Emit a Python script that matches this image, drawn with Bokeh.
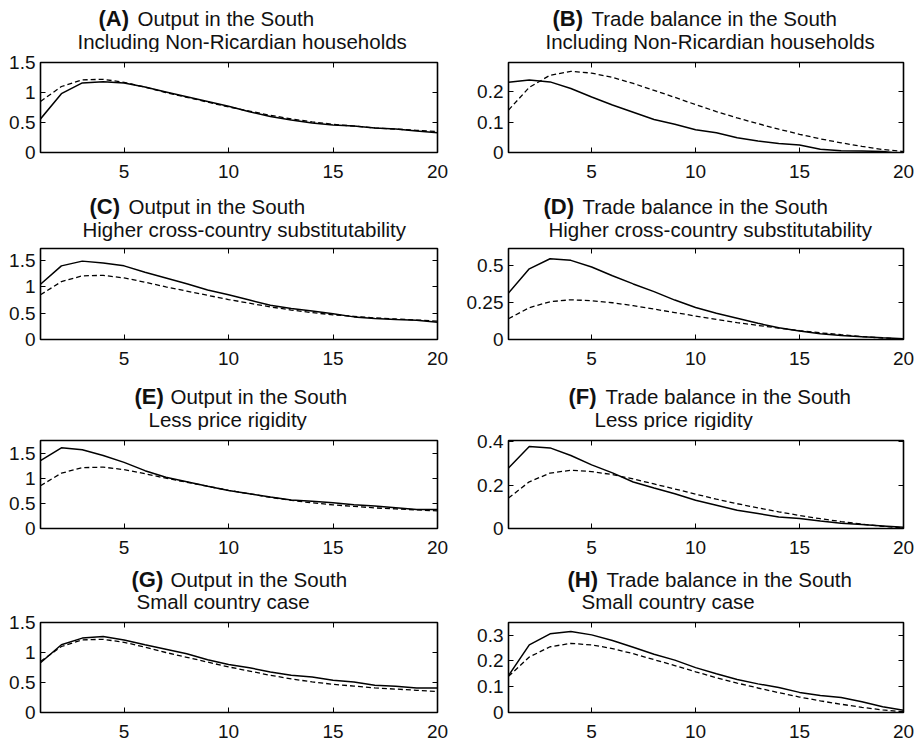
from bokeh.plotting import figure
from bokeh.models import Range1d, LinearAxis, FixedTicker
from bokeh.core.properties import value
from bokeh.layouts import column, row
from bokeh.embed import file_html
from bokeh.resources import INLINE

# ---------------- data ----------------
periods = list(range(1, 21))

# benchmark (dashed) responses
base_output = [0.85, 1.10, 1.21, 1.22, 1.17, 1.09, 1.00, 0.92, 0.84, 0.76,
               0.69, 0.62, 0.56, 0.51, 0.47, 0.44, 0.41, 0.39, 0.37, 0.35]
base_trade = [0.14, 0.215, 0.255, 0.268, 0.262, 0.248, 0.228, 0.205, 0.182, 0.158,
              0.135, 0.114, 0.095, 0.077, 0.060, 0.045, 0.032, 0.020, 0.010, 0.003]

# alternative scenarios (solid)
output_nonricardian = [0.56, 0.98, 1.16, 1.18, 1.16, 1.09, 1.01, 0.93, 0.85, 0.77,
                       0.68, 0.60, 0.54, 0.49, 0.46, 0.44, 0.41, 0.39, 0.36, 0.33]
trade_nonricardian = [0.232, 0.239, 0.233, 0.211, 0.183, 0.157, 0.133, 0.109, 0.093, 0.075,
                      0.065, 0.049, 0.038, 0.030, 0.025, 0.011, 0.006, 0.005, 0.003, -0.004]
output_substit = [1.05, 1.40, 1.49, 1.455, 1.40, 1.28, 1.17, 1.06, 0.94, 0.85,
                  0.75, 0.65, 0.59, 0.54, 0.49, 0.43, 0.40, 0.38, 0.365, 0.33]
trade_substit = [0.314, 0.477, 0.545, 0.534, 0.489, 0.43, 0.375, 0.323, 0.266, 0.216,
                 0.177, 0.143, 0.109, 0.08, 0.057, 0.039, 0.027, 0.018, 0.011, 0.005]
output_flexprice = [1.35, 1.605, 1.565, 1.45, 1.315, 1.15, 1.02, 0.93, 0.84, 0.757,
                    0.69, 0.625, 0.566, 0.54, 0.513, 0.474, 0.447, 0.414, 0.38, 0.38]
trade_flexprice = [0.278, 0.377, 0.371, 0.336, 0.293, 0.256, 0.214, 0.186, 0.160, 0.130,
                   0.107, 0.084, 0.069, 0.053, 0.046, 0.034, 0.024, 0.018, 0.012, 0.006]
output_small = [0.83, 1.13, 1.24, 1.265, 1.21, 1.13, 1.055, 0.98, 0.88, 0.80,
                0.746, 0.674, 0.619, 0.59, 0.536, 0.508, 0.453, 0.436, 0.409, 0.409]
trade_small = [0.143, 0.262, 0.305, 0.314, 0.301, 0.279, 0.253, 0.226, 0.203, 0.174,
               0.15, 0.128, 0.111, 0.097, 0.078, 0.066, 0.058, 0.042, 0.022, 0.009]

letters = ["(A)", "(B)", "(C)", "(D)", "(E)", "(F)", "(G)", "(H)"]
titles = ["Output in the South", "Trade balance in the South"] * 4
subtitles = ["Including Non-Ricardian households", "Including Non-Ricardian households",
             "Higher cross-country substitutability", "Higher cross-country substitutability",
             "Less price rigidity", "Less price rigidity",
             "Small country case", "Small country case"]
solid_series = [output_nonricardian, trade_nonricardian, output_substit, trade_substit,
                output_flexprice, trade_flexprice, output_small, trade_small]
dashed_series = [base_output, base_trade] * 4
y_ticks = [[0, 0.5, 1, 1.5], [0, 0.1, 0.2], [0, 0.5, 1, 1.5], [0, 0.25, 0.5],
           [0, 0.5, 1, 1.5], [0, 0.2, 0.4], [0, 0.5, 1, 1.5], [0, 0.1, 0.2, 0.3]]
y_tick_labels = [["0", "0.5", "1", "1.5"], ["0", "0.1", "0.2"], ["0", "0.5", "1", "1.5"],
                 ["0", "0.25", "0.5"], ["0", "0.5", "1", "1.5"], ["0", "0.2", "0.4"],
                 ["0", "0.5", "1", "1.5"], ["0", "0.1", "0.2", "0.3"]]
x_ticks = [5, 10, 15, 20]

# ---------------- layout (pixels) ----------------
y_max = [1.5, 0.297, 1.73, 0.614, 1.75, 0.405, 1.5, 0.349]
# rows: (row_top, row_bottom, frame_top, frame_bottom, gap above frame)
rows_geo = [(0, 192, 62, 152, 10), (192, 375, 248, 339, 7),
            (375, 562, 440, 528, 10), (562, 741, 622, 712, 10)]
# cols: (col_left, col_right, frame_left, frame_right)
cols_geo = [(0, 459, 40, 437), (459, 918, 508, 903)]
# text positions (absolute): bold_x, normal_x, line1_baseline, sub_x, sub_baseline
text_pos = [(98, 137, 25, 77, 48), (552, 591, 25, 545, 48),
            (89, 128, 213, 82, 236), (543, 582, 213, 548, 236),
            (134, 170, 403, 148, 426), (568, 605, 403, 594, 426),
            (131, 170, 586, 136, 608), (567, 606, 586, 581, 608)]
MID = 7  # distance from baseline to em-box middle at ~20px

FONT = "Liberation Sans"
INK = "#111111"
TITLE_SIZE = "20.5px"
BOLD_SIZE = "22px"


def style_axis(ax, show_labels=True, standoff=5):
    ax.axis_line_color = None
    ax.major_tick_in = 5
    ax.major_tick_out = 0
    ax.major_tick_line_color = "black"
    ax.major_tick_line_width = 1
    ax.minor_tick_line_color = None
    ax.major_label_text_font = FONT
    if show_labels:
        ax.major_label_text_color = INK
        ax.major_label_text_font_size = "19px"
        ax.major_label_standoff = standoff
    else:
        ax.major_label_text_color = None
        ax.major_label_text_font_size = "1px"
        ax.major_label_standoff = 0


def make_title(i):
    r, c = divmod(i, 2)
    rt, rb, ft, fb, gap = rows_geo[r]
    cl, cr, fl, fr = cols_geo[c]
    w = cr - cl
    h = ft - gap - rt
    # the column aligns this frame with the panel frame below it (fl..fr)
    t = figure(width=w, height=h, output_backend="svg", toolbar_location=None,
               x_range=Range1d(fl - cl, fr - cl), y_range=Range1d(0, h),
               x_axis_location=None, y_axis_location=None,
               min_border_left=fl - cl, min_border_right=cr - fr,
               min_border_top=0, min_border_bottom=0, outline_line_color=None,
               background_fill_color="white", border_fill_color="white")
    t.xgrid.visible = False
    t.ygrid.visible = False
    bx, nx, b1, sx, b2 = text_pos[i]
    y1 = h - (b1 - MID - rt)
    y2 = h - (b2 - MID - rt)
    t.text(x=[bx - cl], y=[y1], text=[letters[i]], text_font=value(FONT),
           text_font_size=BOLD_SIZE, text_font_style="bold", text_color=INK,
           text_baseline="middle", text_align="left")
    t.text(x=[nx - cl, sx - cl], y=[y1, y2],
           text=[titles[i], subtitles[i]], text_font=value(FONT),
           text_font_size=TITLE_SIZE, text_color=INK,
           text_baseline="middle", text_align="left")
    return t


def make_panel(i):
    r, c = divmod(i, 2)
    rt, rb, ft, fb, gap = rows_geo[r]
    cl, cr, fl, fr = cols_geo[c]
    p = figure(frame_width=fr - fl, frame_height=fb - ft,
               output_backend="svg", toolbar_location=None,
               x_range=Range1d(1, 20), y_range=Range1d(0, y_max[i]),
               min_border_left=fl - cl, min_border_right=cr - fr,
               min_border_top=gap, min_border_bottom=rb - fb,
               background_fill_color="white", border_fill_color="white")
    p.xgrid.visible = False
    p.ygrid.visible = False
    p.outline_line_color = "black"
    p.outline_line_width = 1.6
    p.outline_line_alpha = 1

    p.xaxis.ticker = FixedTicker(ticks=x_ticks)
    p.yaxis.ticker = FixedTicker(ticks=y_ticks[i])
    p.yaxis.major_label_overrides = {t: lab for t, lab in zip(y_ticks[i], y_tick_labels[i])}
    for ax in p.xaxis:
        style_axis(ax, True, standoff=12)
    for ax in p.yaxis:
        style_axis(ax, True, standoff=5)

    top_ax = LinearAxis(ticker=FixedTicker(ticks=x_ticks))
    right_ax = LinearAxis(ticker=FixedTicker(ticks=y_ticks[i]))
    style_axis(top_ax, False)
    style_axis(right_ax, False)
    p.add_layout(top_ax, "above")
    p.add_layout(right_ax, "right")

    p.line(periods, dashed_series[i], line_color="black", line_width=1.3, line_dash="5 3")
    p.line(periods, solid_series[i], line_color="black", line_width=1.5)
    return p


cells = [column(make_title(i), make_panel(i)) for i in range(8)]
layout = column(*[row(cells[2 * k], cells[2 * k + 1]) for k in range(4)])

with open("out.html", "w") as f:
    f.write(file_html(layout, INLINE))
